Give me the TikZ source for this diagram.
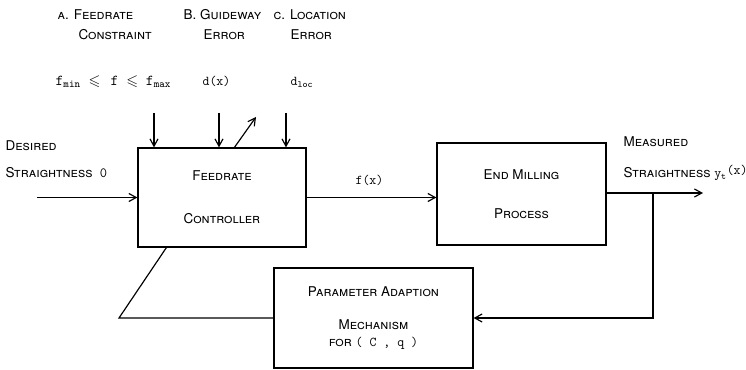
\documentclass[tikz,border=0pt]{standalone}
\usepackage{fontspec}
\usepackage{amssymb}
\setsansfont{TeX Gyre Heros}
\usetikzlibrary{arrows.meta, positioning, calc}
\newcommand{\tx}[1]{{\upshape\ttfamily #1}}
\tikzset{
  every picture/.style={font=\sffamily\scshape\fontsize{11.5}{14}\selectfont, line width=1pt, x=0.03cm, y=-0.03cm},
  box/.style={draw, align=center, inner sep=0pt},
  arrow/.style={-{Straight Barb[length=2.2mm, width=2.4mm]}},
  lbl/.style={anchor=west, inner sep=0pt},
  big/.style={font=\fontsize{13}{15}\selectfont},
}

\begin{document}
\begin{tikzpicture}
  \useasboundingbox (0,0) rectangle (746,370);
  % blocks
  \node[box, minimum width=5.04cm, minimum height=2.97cm] (ctrl) at (222,197.5) {Feedrate\\[23pt]Controller};
  \node[box, minimum width=5.07cm, minimum height=3.06cm] (mill) at (521.5,194) {End Milling\\[19pt]Process};
  \node[box, minimum width=5.97cm, minimum height=3.0cm] (adapt) at (373.5,318)
    {Parameter Adaption\\[14pt]Mechanism\\[0pt]for \tx{( C , q )}};
  % disturbance labels
  \node[lbl] (tA) at (57,15) {a. Feedrate};
  \node[lbl] (tA2) at (78,35) {Constraint};
  \node[lbl] (tB) at (183,15) {B. Guideway};
  \node[lbl] (tB2) at (203,35) {Error};
  \node[lbl] (tC) at (273,15) {c. Location};
  \node[lbl] (tC2) at (290,35) {Error};
  \node[lbl, big] (mA) at (55,82) {$\mathtt{f}_{\mathtt{min}}\;\leqslant\;\,\mathtt{f}\;\leqslant\;\mathtt{f}_{\mathtt{max}}$};
  \node[lbl] (mB) at (202,81) {\tx{d(x)}};
  \node[lbl] (mC) at (290,82) {$\mathtt{d}_{\mathtt{loc}}$};
  % input / output labels
  \node[lbl] (des) at (5,146) {Desired};
  \node[lbl] (des2) at (5,173) {Straightness\ \ \tx{\large 0}};
  \node[lbl] (fx) at (355,180) {\tx{f(x)}};
  \node[lbl] (meas) at (623,142) {Measured};
  \node[lbl] (meas2) at (623,173) {Straightness $\mathtt{y}_{\mathtt{t}}$\raisebox{2pt}{\tx{(x)}}};
  % connectors
  \coordinate (inA) at (154,113);
  \coordinate (inB) at (219,113);
  \coordinate (inC) at (286,113);
  \coordinate (fbA) at (234,148);
  \coordinate (fbB) at (256,117);
  \foreach \c in {inA, inB, inC}
    \draw[arrow] (\c) -- (\c |- ctrl.north);
  \draw[arrow] (fbA) -- (fbB);
  \coordinate (in) at (37,197.5);
  \draw[arrow] (in) -- (ctrl.west);
  \draw[arrow] (ctrl.east) -- (ctrl.east -| mill.west);
  \coordinate (out) at (703,193);
  \coordinate (tap) at (653,193);
  \draw[arrow] (mill.east |- out) -- (out);
  \draw[arrow] (tap) |- (adapt.east);
  \coordinate (bend) at (119,318);
  \draw (adapt.west) -- (bend) -- ($(ctrl.south west)+(29,0)$);
\end{tikzpicture}
\end{document}
